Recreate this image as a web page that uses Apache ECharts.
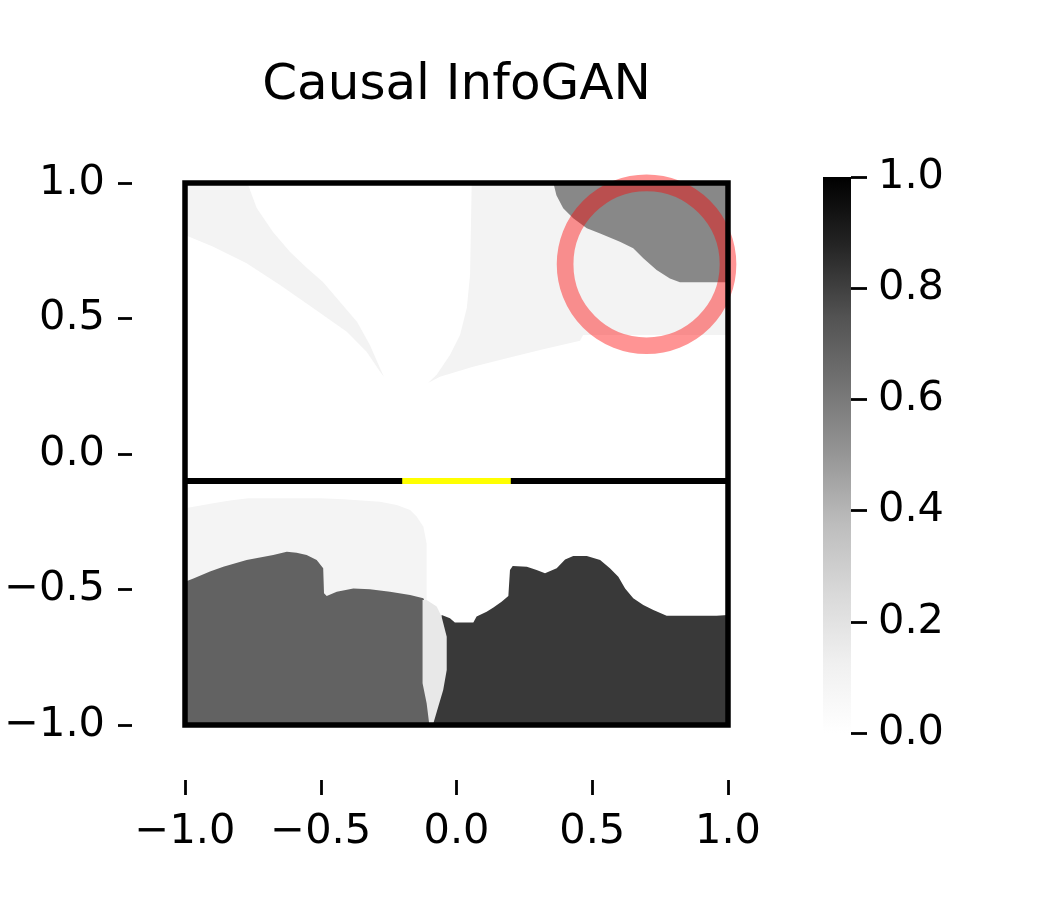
<!DOCTYPE html>
<html>
<head>
<meta charset="utf-8">
<script src="https://cdn.jsdelivr.net/npm/echarts@6/dist/echarts.min.js"></script>
<style>html,body{margin:0;background:#fff}#chart{width:1050px;height:900px}</style>
</head>
<body>
<div id="chart"></div>
<script>
const chartTitle = 'Causal InfoGAN';
const axisTicks = [-1.0, -0.5, 0.0, 0.5, 1.0];
const colorbarTicks = [0.0, 0.2, 0.4, 0.6, 0.8, 1.0];
// matplotlib "Greys"
const greys = ['#ffffff', '#f0f0f0', '#d9d9d9', '#bdbdbd', '#969696', '#737373', '#525252', '#252525', '#000000'];

// region outlines, [x, y] in data units
const topLeftBand = [
  [-1.0, 1.0], [-0.77, 1.0], [-0.736, 0.908], [-0.676, 0.819], [-0.613, 0.745], [-0.551, 0.686],
  [-0.492, 0.635], [-0.429, 0.561], [-0.366, 0.487], [-0.319, 0.402], [-0.282, 0.317], [-0.267, 0.284],
  [-0.282, 0.304], [-0.331, 0.377], [-0.404, 0.451], [-0.527, 0.538], [-0.650, 0.624], [-0.773, 0.704],
  [-0.896, 0.765], [-1.0, 0.808]
];
const topCentreBand = [
  [0.056, 1.0], [1.0, 1.0], [1.0, 0.439], [0.466, 0.439], [0.455, 0.418], [0.308, 0.384], [0.185, 0.353],
  [0.061, 0.322], [-0.061, 0.285], [-0.105, 0.262], [-0.073, 0.292], [-0.024, 0.365], [0.013, 0.439],
  [0.038, 0.539], [0.050, 0.661]
];
const topRightDark = [
  [0.357, 1.0], [0.368, 0.955], [0.393, 0.907], [0.430, 0.870], [0.480, 0.833], [0.529, 0.814], [0.602, 0.783],
  [0.651, 0.759], [0.688, 0.722], [0.737, 0.679], [0.786, 0.648], [0.823, 0.634], [1.0, 0.634], [1.0, 1.0]
];
const bottomLight = [
  [-1.0, -0.200], [-0.896, -0.182], [-0.834, -0.172], [-0.767, -0.163], [-0.503, -0.163], [-0.417, -0.167],
  [-0.282, -0.176], [-0.220, -0.188], [-0.171, -0.207], [-0.147, -0.231], [-0.122, -0.268], [-0.110, -0.330],
  [-0.110, -0.576], [-1.0, -0.576]
];
const bottomLeftDark = [
  [-1.0, -0.471], [-0.969, -0.459], [-0.908, -0.434], [-0.859, -0.416], [-0.773, -0.391], [-0.675, -0.373],
  [-0.625, -0.361], [-0.589, -0.364], [-0.552, -0.373], [-0.515, -0.391], [-0.491, -0.422], [-0.488, -0.514],
  [-0.478, -0.524], [-0.441, -0.508], [-0.380, -0.496], [-0.319, -0.499], [-0.245, -0.508], [-0.171, -0.520],
  [-0.122, -0.532], [-0.117, -0.545], [-0.105, -0.75], [-0.093, -1.0], [-1.0, -1.0]
];
const bottomRightDark = [
  [-0.0545, -0.594], [-0.024, -0.606], [-0.006, -0.622], [0.062, -0.622], [0.074, -0.600], [0.111, -0.582],
  [0.136, -0.566], [0.166, -0.545], [0.191, -0.524], [0.197, -0.428], [0.207, -0.413], [0.259, -0.416],
  [0.295, -0.428], [0.326, -0.440], [0.369, -0.422], [0.400, -0.389], [0.430, -0.376], [0.480, -0.376],
  [0.529, -0.391], [0.565, -0.422], [0.596, -0.453], [0.621, -0.496], [0.651, -0.532], [0.688, -0.557],
  [0.725, -0.576], [0.774, -0.597], [0.958, -0.597], [1.0, -0.594], [1.0, -1.0], [-0.093, -1.0],
  [-0.08, -0.75], [-0.06, -0.62]
];
const narrowStrip = [
  [-0.125, -0.539], [-0.110, -0.539], [-0.073, -0.563], [-0.055, -0.600], [-0.036, -0.674], [-0.036, -0.797],
  [-0.049, -0.871], [-0.067, -0.932], [-0.087, -1.0], [-0.100, -1.0], [-0.110, -0.920], [-0.125, -0.846]
];
const regions = [topLeftBand, topCentreBand, topRightDark, bottomLight, bottomLeftDark, bottomRightDark, narrowStrip];
const regionValues = [0.1, 0.1, 0.55, 0.09, 0.69, 0.82, 0.17];

const frame = [[-1, -1], [1, -1], [1, 1], [-1, 1], [-1, -1]];
const wall = [[-1, -0.1], [1, -0.1]];
const gap = [[-0.2, -0.1], [0.2, -0.1]];
const goal = [0.7, 0.7];
const goalRadius = 0.3;

const FONT = '"DejaVu Sans", sans-serif';
const fmt = v => (v < 0 ? '\u2212' : '') + Math.abs(v).toFixed(1);

const chart = echarts.init(document.getElementById('chart'), null, { renderer: 'canvas' });

const mainAxis = (offset, tickLen, margin, pad) => ({
  type: 'value', min: axisTicks[0], max: axisTicks[axisTicks.length - 1],
  interval: axisTicks[1] - axisTicks[0], offset: offset,
  axisLine: { show: false, onZero: false },
  axisTick: { show: true, length: tickLen, lineStyle: { color: '#000', width: 2.8 } },
  axisLabel: { margin: margin, formatter: fmt, color: '#000', fontSize: 41.5, fontFamily: FONT, padding: pad },
  splitLine: { show: false }
});

chart.setOption({
  animation: false,
  backgroundColor: '#fff',
  graphic: [{
    type: 'text', x: 456.5, y: 86,
    style: { text: chartTitle, fill: '#000', fontSize: 50, fontFamily: FONT, align: 'center', verticalAlign: 'middle' }
  }],
  grid: [
    { left: 185, top: 183, width: 543, height: 542 },
    { left: 823, top: 177, width: 28, height: 556 }
  ],
  xAxis: [
    Object.assign(mainAxis(55, 15, 31, 0), { gridIndex: 0, position: 'bottom' }),
    { gridIndex: 1, type: 'value', min: 0, max: 1, show: false }
  ],
  yAxis: [
    Object.assign(mainAxis(53, 14, 27, [13, 0, 0, 0]), { gridIndex: 0, position: 'left' }),
    {
      gridIndex: 1, type: 'value', position: 'right',
      min: colorbarTicks[0], max: colorbarTicks[colorbarTicks.length - 1], interval: colorbarTicks[1] - colorbarTicks[0],
      axisLine: { show: false, onZero: false },
      axisTick: { show: true, length: 16, lineStyle: { color: '#000', width: 2.8 } },
      axisLabel: { margin: 27, formatter: v => v.toFixed(1), color: '#000', fontSize: 41.5, fontFamily: FONT, padding: [18, 0, 0, 0] },
      splitLine: { show: false }
    }
  ],
  visualMap: {
    show: false, type: 'continuous', min: 0, max: 1, dimension: 0, seriesIndex: 0,
    inRange: { color: greys }
  },
  series: [
    {
      type: 'custom', xAxisIndex: 0, yAxisIndex: 0, silent: true,
      data: regionValues.map((v, i) => [v, i]),
      encode: { x: -1, y: -1 },
      renderItem: function (params, api) {
        const pts = regions[api.value(1)].map(p => api.coord(p));
        return { type: 'polygon', shape: { points: pts }, style: { fill: api.visual('color'), stroke: null } };
      }
    },
    {
      type: 'custom', xAxisIndex: 0, yAxisIndex: 0, silent: true, clip: false,
      data: [goal],
      renderItem: function (params, api) {
        const c = api.coord([api.value(0), api.value(1)]);
        const r = api.size([goalRadius, goalRadius])[0];
        return {
          type: 'circle', shape: { cx: c[0], cy: c[1], r: r },
          style: { fill: null, stroke: 'rgba(255,0,0,0.42)', lineWidth: 16.7 }
        };
      }
    },
    {
      type: 'line', xAxisIndex: 0, yAxisIndex: 0, data: frame, symbol: 'none', clip: false, silent: true,
      lineStyle: { color: '#000', width: 5.5, cap: 'square', join: 'miter' }
    },
    {
      type: 'line', xAxisIndex: 0, yAxisIndex: 0, data: wall, symbol: 'none', clip: false, silent: true,
      lineStyle: { color: '#000', width: 6 }
    },
    {
      type: 'line', xAxisIndex: 0, yAxisIndex: 0, data: gap, symbol: 'none', clip: false, silent: true,
      lineStyle: { color: '#ffff00', width: 6 }
    },
    {
      type: 'custom', xAxisIndex: 1, yAxisIndex: 1, silent: true,
      data: [[0, 0, 1, 1]],
      renderItem: function (params, api) {
        const a = api.coord([api.value(0), api.value(1)]);
        const b = api.coord([api.value(2), api.value(3)]);
        const stops = greys.map((c, i) => ({ offset: i / (greys.length - 1), color: c }));
        return {
          type: 'rect',
          shape: { x: a[0], y: b[1], width: b[0] - a[0], height: a[1] - b[1] },
          style: { fill: new echarts.graphic.LinearGradient(0, 1, 0, 0, stops) }
        };
      }
    }
  ]
});
</script>
</body>
</html>
